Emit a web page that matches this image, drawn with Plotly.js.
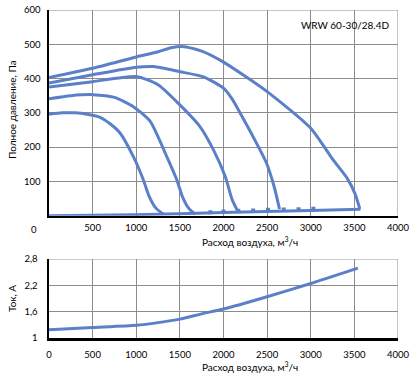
<!DOCTYPE html>
<html><head><meta charset="utf-8">
<script src="https://cdn.plot.ly/plotly-3.0.1.min.js"></script>
<style>html,body{margin:0;padding:0;background:#fff}#chart{width:412px;height:373px}</style>
</head><body><div id="chart"></div>
<script>
// Pressure curves (Полное давление, Па vs Расход воздуха, м³/ч)
const curve1X = [0, 500, 1000, 1250, 1400, 1550, 1750, 2000, 2500, 3000, 3250, 3420, 3510, 3562];
const curve1Y = [403, 430, 463, 478, 490, 493, 480, 448, 362, 255, 165, 108, 62, 20];
const curve2X = [0, 500, 1000, 1200, 1500, 1770, 2000, 2100, 2200, 2350, 2490, 2580, 2642];
const curve2Y = [387, 411, 433, 435, 420, 405, 372, 340, 295, 225, 155, 85, 19];
const curve3X = [0, 500, 1000, 1250, 1465, 1730, 1885, 2020, 2100, 2165];
const curve3Y = [375, 391, 406, 382, 332, 260, 192, 114, 46, 12];
const curve4X = [0, 250, 500, 750, 967, 1160, 1350, 1465, 1530, 1600, 1675];
const curve4Y = [341, 350, 353, 345, 318, 275, 172, 104, 55, 22, 4];
const curve5X = [0, 150, 300, 450, 585, 700, 814, 967, 1082, 1145, 1225, 1315];
const curve5Y = [296, 300, 300, 295, 287, 268, 241, 172, 104, 58, 22, 4];
const baseX = [0, 1000, 2000, 3000, 3570];
const baseY = [0, 3, 9, 15, 19];
const dashX = [1850, 2000, 2170, 2340, 2510, 2690, 2860, 3030];
const dashY = [10, 12, 14, 15, 17, 18, 19, 20];
// Current (Ток, А)
const currentX = [0, 500, 1000, 1250, 1500, 1750, 2000, 2500, 3000, 3540];
const currentY = [1.19, 1.24, 1.29, 1.35, 1.43, 1.55, 1.66, 1.94, 2.24, 2.59];

const xTicks = [0, 500, 1000, 1500, 2000, 2500, 3000, 3500, 4000];
const pTicks = [100, 200, 300, 400, 500, 600];
const iTicks = [1, 1.6, 2.2, 2.8];
const iTickText = ['1', '1,6', '2,2', '2,8'];
const modelLabel = 'WRW 60-30/28.4D';
const xTitle = 'Расход воздуха, м<sup>3</sup>/ч';
const pTitle = 'Полное давление, Па';
const iTitle = 'Ток, А';

const blue = '#5b80c8';
const fam = 'Lato, "Open Sans", sans-serif';
const font = {family: fam, size: 9.5, color: '#000'};
const tfont = {family: fam, size: 10, color: '#000'};
function ln(x, y, ax) {
  return {x: x, y: y, mode: 'lines', line: {color: blue, width: 3, shape: 'spline', smoothing: 0.6},
    xaxis: ax[0], yaxis: ax[1], hoverinfo: 'skip', showlegend: false};
}
const axTop = ['x', 'y'];
const data = [
  ln(baseX, baseY, axTop),
  {x: dashX, y: dashY, mode: 'markers', marker: {symbol: 'square', size: 4, color: blue},
   xaxis: 'x', yaxis: 'y', showlegend: false, hoverinfo: 'skip'},
  ln(curve1X, curve1Y, axTop), ln(curve2X, curve2Y, axTop), ln(curve3X, curve3Y, axTop),
  ln(curve4X, curve4Y, axTop), ln(curve5X, curve5Y, axTop),
  ln(currentX, currentY, ['x2', 'y2'])
];
const grid = '#8c8c8c';
const xBase = {range: [0, 4000], tickvals: xTicks, showgrid: true, gridcolor: grid, gridwidth: 1,
  zeroline: false, showline: true, linecolor: '#000', linewidth: 2.5, ticks: '', tickfont: font,
  fixedrange: true};
const layout = {
  width: 412, height: 373, margin: {l: 49, r: 14, t: 10, b: 35},
  paper_bgcolor: '#fff', plot_bgcolor: '#fff', font: font, showlegend: false,
  xaxis: Object.assign({}, xBase, {anchor: 'y', tickvals: xTicks.slice(1), ticklabelstandoff: 1}),
  yaxis: {domain: [0.373, 1], range: [0, 600], tickvals: pTicks, showgrid: true, gridcolor: grid,
    zeroline: false, showline: true, linecolor: '#000', linewidth: 2.5, ticks: '', tickfont: font,
    ticklabelstandoff: 4, anchor: 'x'},
  xaxis2: Object.assign({}, xBase, {anchor: 'y2', ticklabelstandoff: 6}),
  yaxis2: {domain: [0, 0.241], range: [1, 2.8], tickvals: iTicks, ticktext: iTickText, showgrid: true,
    gridcolor: grid, zeroline: false, showline: true, linecolor: '#000', linewidth: 2.5, ticks: '',
    tickfont: font, ticklabelstandoff: 7, anchor: 'x2'},
  shapes: [
    {type: 'line', xref: 'x', yref: 'y', x0: 4000, x1: 4000, y0: 0, y1: 600, line: {color: grid, width: 1}},
    {type: 'line', xref: 'x', yref: 'y', x0: 0, x1: 4000, y0: 600, y1: 600, line: {color: grid, width: 1}},
    {type: 'line', xref: 'x2', yref: 'y2', x0: 4000, x1: 4000, y0: 1, y1: 2.8, line: {color: grid, width: 1}},
    {type: 'line', xref: 'x2', yref: 'y2', x0: 0, x1: 4000, y0: 2.8, y1: 2.8, line: {color: grid, width: 1}}
  ],
  annotations: [
    {text: modelLabel, xref: 'x', yref: 'y', x: 3920, y: 555, xanchor: 'right', yanchor: 'middle',
     showarrow: false, font: {family: fam, size: 10, color: '#000'}},
    {text: '0', xref: 'paper', yref: 'y', x: 0, y: 0, xanchor: 'right', yanchor: 'top', xshift: -10,
     yshift: -6, showarrow: false, font: font},
    {text: xTitle, xref: 'x', yref: 'paper', x: 2300, y: (373 - 35 - 241) / 328, xanchor: 'center',
     yanchor: 'middle', showarrow: false, font: tfont},
    {text: xTitle, xref: 'x2', yref: 'paper', x: 2300, y: (373 - 35 - 366) / 328, xanchor: 'center',
     yanchor: 'middle', showarrow: false, font: tfont},
    {text: pTitle, xref: 'paper', yref: 'paper', x: (12 - 49) / 349, y: (373 - 35 - 110) / 328,
     xanchor: 'center', yanchor: 'middle', textangle: -90, showarrow: false, font: tfont},
    {text: iTitle, xref: 'paper', yref: 'paper', x: (12 - 49) / 349, y: (373 - 35 - 299) / 328,
     xanchor: 'center', yanchor: 'middle', textangle: -90, showarrow: false, font: tfont}
  ]
};
Plotly.newPlot('chart', data, layout, {displayModeBar: false, staticPlot: true});
</script></body></html>
